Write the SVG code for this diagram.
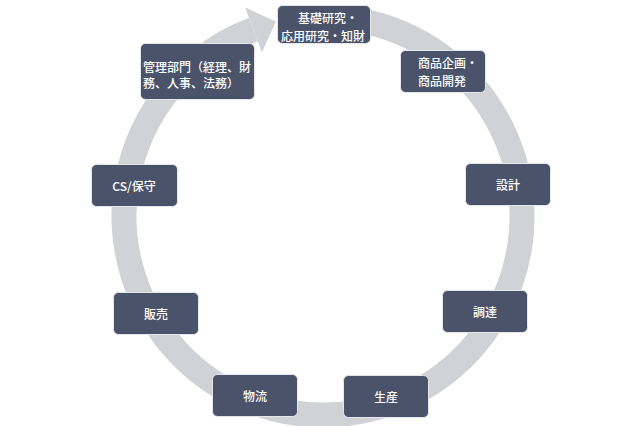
<svg xmlns="http://www.w3.org/2000/svg" width="640" height="426" viewBox="0 0 640 426">
<style>
.node rect{fill:#4a5369;stroke:#e6e7ea;stroke-width:1}
.node text{fill:#ffffff;font-family:"Noto Sans CJK JP","Noto Sans",sans-serif;font-size:12px;font-weight:500;text-anchor:middle;dominant-baseline:central}
.ring{fill:none;stroke:#d1d2d5;stroke-width:25}
.head{fill:#d1d2d5}
</style>
<rect width="640" height="426" fill="#ffffff"/>
<g id="connectors">
<path class="ring" d="M 357.6 20 A 199 199 0 1 1 253.3 29.6"/>
<polygon class="head" points="245.1,7.5 276,21.5 261.9,52.5"/>
</g>
<g id="node-kiso" class="node"><rect x="277.5" y="5.5" width="93" height="38" rx="5"/><text x="328" y="17">基礎研究・</text><text x="323" y="35">応用研究・知財</text></g>
<g id="node-shohin" class="node"><rect x="400.5" y="50.5" width="85" height="42" rx="5"/><text x="448" y="62">商品企画・</text><text x="442" y="80">商品開発</text></g>
<g id="node-sekkei" class="node"><rect x="465.5" y="163.5" width="85" height="42" rx="5"/><text x="508" y="184.5">設計</text></g>
<g id="node-chotatsu" class="node"><rect x="442.5" y="290.5" width="85" height="42" rx="5"/><text x="485" y="311.5">調達</text></g>
<g id="node-seisan" class="node"><rect x="343.5" y="375.5" width="85" height="42" rx="5"/><text x="386" y="396.5">生産</text></g>
<g id="node-butsuryu" class="node"><rect x="212.5" y="374.5" width="85" height="42" rx="5"/><text x="255" y="395.5">物流</text></g>
<g id="node-hanbai" class="node"><rect x="113.5" y="292.5" width="85" height="42" rx="5"/><text x="156" y="313.5">販売</text></g>
<g id="node-cs" class="node"><rect x="91.5" y="164.5" width="86" height="42" rx="5"/><text x="134" y="185.5">CS/保守</text></g>
<g id="node-kanri" class="node"><rect x="140.5" y="43.5" width="114" height="56" rx="5"/><text x="197" y="66">管理部門（経理、財</text><text x="191" y="82">務、人事、法務）</text></g>
</svg>
